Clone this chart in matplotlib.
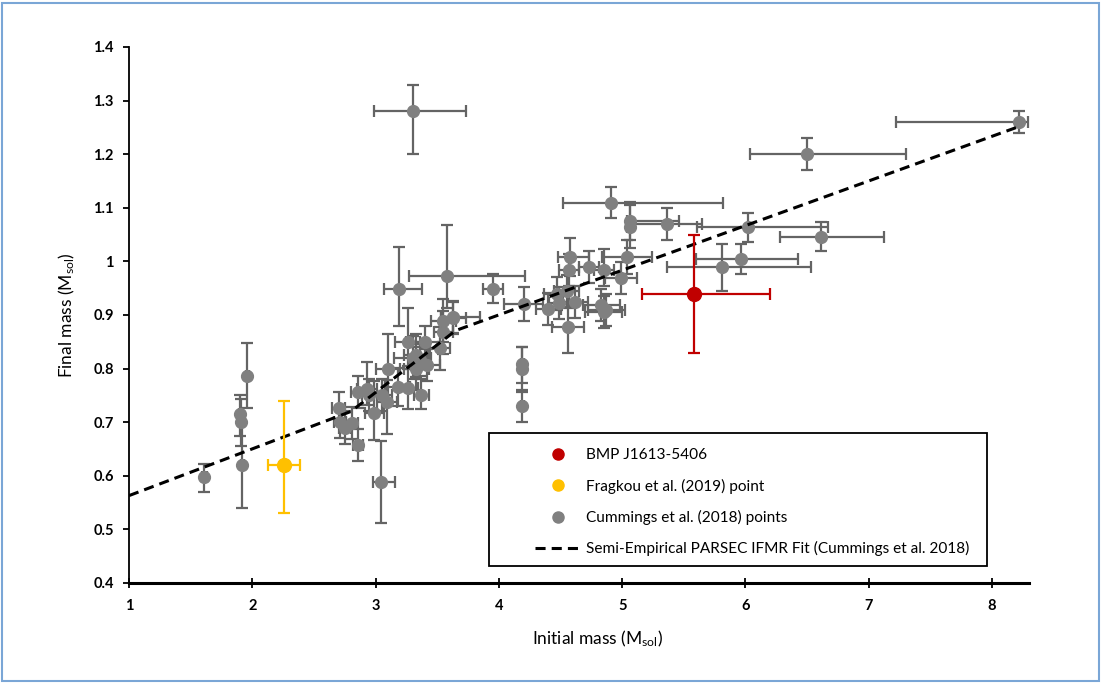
import matplotlib
matplotlib.use("Agg")
import matplotlib.pyplot as plt
from matplotlib.lines import Line2D
from matplotlib.patches import Rectangle

plt.rcParams['font.family'] = ['Lato', 'DejaVu Sans']
plt.rcParams['mathtext.default'] = 'regular'

# Cummings et al. (2018) points: initial mass, final mass and asymmetric errors
cum_x = [1.61, 1.90, 1.91, 1.92, 1.96, 2.70, 2.71, 2.75, 2.81, 2.86,
         2.86, 2.93, 2.95, 2.99, 3.04, 3.05, 3.09, 3.10, 3.18, 3.19,
         3.26, 3.26, 3.30, 3.33, 3.33, 3.36, 3.37, 3.30, 3.40, 3.42,
         3.52, 3.55, 3.55, 3.58, 3.63, 3.63, 3.95, 4.19, 4.19, 4.19,
         4.20, 4.40, 4.47, 4.49, 4.55, 4.56, 4.57, 4.58, 4.62, 4.73,
         4.83, 4.85, 4.87, 4.85, 4.91, 4.99, 5.04, 5.06, 5.06, 5.36,
         5.81, 5.96, 6.02, 6.50, 6.61, 8.22]
cum_y = [0.597, 0.715, 0.700, 0.620, 0.787, 0.727, 0.700, 0.690, 0.699, 0.657,
         0.757, 0.762, 0.751, 0.717, 0.589, 0.750, 0.738, 0.800, 0.766, 0.949,
         0.764, 0.850, 0.820, 0.825, 0.800, 0.816, 0.751, 1.280, 0.850, 0.807,
         0.838, 0.868, 0.889, 0.973, 0.896, 0.894, 0.949, 0.808, 0.800, 0.731,
         0.920, 0.911, 0.940, 0.922, 0.945, 0.878, 0.984, 1.008, 0.924, 0.990,
         0.918, 0.905, 0.910, 0.984, 1.109, 0.969, 1.008, 1.075, 1.065, 1.070,
         0.990, 1.005, 1.064, 1.200, 1.046, 1.260]
cum_xlo = [0.02, 0.01, 0.01, 0.01, 0.01, 0.05, 0.05, 0.05, 0.05, 0.04,
           0.06, 0.08, 0.06, 0.08, 0.06, 0.08, 0.08, 0.10, 0.10, 0.12,
           0.08, 0.10, 0.15, 0.10, 0.10, 0.08, 0.06, 0.31, 0.15, 0.10,
           0.08, 0.08, 0.10, 0.31, 0.10, 0.10, 0.08, 0.01, 0.01, 0.01,
           0.16, 0.10, 0.10, 0.08, 0.10, 0.13, 0.08, 0.10, 0.10, 0.08,
           0.15, 0.15, 0.15, 0.08, 0.39, 0.13, 0.20, 0.02, 0.02, 0.26,
           0.45, 0.36, 0.41, 0.46, 0.33, 1.00]
cum_xhi = [0.02, 0.01, 0.01, 0.01, 0.01, 0.05, 0.05, 0.05, 0.05, 0.04,
           0.06, 0.08, 0.06, 0.08, 0.12, 0.08, 0.08, 0.10, 0.10, 0.19,
           0.08, 0.10, 0.15, 0.10, 0.10, 0.08, 0.06, 0.43, 0.15, 0.10,
           0.08, 0.08, 0.10, 0.63, 0.22, 0.10, 0.08, 0.01, 0.01, 0.01,
           0.16, 0.10, 0.10, 0.08, 0.10, 0.13, 0.08, 0.15, 0.10, 0.08,
           0.15, 0.15, 0.15, 0.08, 0.91, 0.13, 0.20, 0.40, 0.02, 0.29,
           0.72, 0.47, 0.65, 0.80, 0.51, 0.07]
cum_ylo = [0.027, 0.040, 0.045, 0.080, 0.060, 0.030, 0.030, 0.030, 0.030, 0.030,
           0.030, 0.030, 0.030, 0.050, 0.077, 0.030, 0.060, 0.065, 0.035, 0.070,
           0.040, 0.050, 0.040, 0.040, 0.040, 0.030, 0.026, 0.080, 0.030, 0.030,
           0.040, 0.040, 0.040, 0.060, 0.030, 0.030, 0.027, 0.035, 0.040, 0.030,
           0.032, 0.030, 0.030, 0.030, 0.030, 0.048, 0.030, 0.035, 0.030, 0.030,
           0.030, 0.030, 0.030, 0.030, 0.028, 0.030, 0.032, 0.035, 0.040, 0.030,
           0.045, 0.028, 0.028, 0.030, 0.027, 0.020]
cum_yhi = [0.025, 0.035, 0.043, 0.080, 0.060, 0.030, 0.030, 0.030, 0.030, 0.030,
           0.030, 0.050, 0.030, 0.060, 0.075, 0.030, 0.040, 0.065, 0.035, 0.078,
           0.040, 0.063, 0.040, 0.040, 0.040, 0.030, 0.030, 0.050, 0.030, 0.030,
           0.040, 0.040, 0.040, 0.094, 0.030, 0.030, 0.027, 0.032, 0.040, 0.025,
           0.032, 0.030, 0.030, 0.030, 0.030, 0.035, 0.030, 0.036, 0.030, 0.030,
           0.030, 0.030, 0.030, 0.040, 0.030, 0.030, 0.032, 0.035, 0.040, 0.030,
           0.042, 0.028, 0.026, 0.030, 0.027, 0.020]

# Fragkou et al. (2019) point
fr_x, fr_y = [2.26], [0.62]
fr_xerr = [[0.13], [0.13]]
fr_yerr = [[0.09], [0.12]]

# BMP J1613-5406
bmp_x, bmp_y = [5.58], [0.94]
bmp_xerr = [[0.42], [0.62]]
bmp_yerr = [[0.11], [0.11]]

# Semi-empirical PARSEC IFMR (Cummings et al. 2018), break points
fit_x = [1.0, 2.8, 3.65, 8.2]
fit_y = [0.563, 0.720, 0.871, 1.250]

gray, bar_gray = '#808080', '#646464'
red, yellow = '#c00000', '#ffc000'

fig = plt.figure(figsize=(11.01, 6.84), dpi=100)
ax = fig.add_axes([0.1172, 0.1477, 0.8174, 0.7836])

ax.errorbar(cum_x, cum_y, xerr=[cum_xlo, cum_xhi], yerr=[cum_ylo, cum_yhi],
            fmt='o', ms=8.5, mfc=gray, mec=gray, ecolor=bar_gray,
            elinewidth=1.6, capsize=4, capthick=1.6, zorder=3)
ax.plot(fit_x, fit_y, color='black', lw=2.2, dashes=(3.3, 2.0), zorder=4)
ax.errorbar(fr_x, fr_y, xerr=fr_xerr, yerr=fr_yerr, fmt='o', ms=10,
            mfc=yellow, mec=yellow, ecolor=yellow, elinewidth=1.6,
            capsize=4, capthick=1.6, zorder=5)
ax.errorbar(bmp_x, bmp_y, xerr=bmp_xerr, yerr=bmp_yerr, fmt='o', ms=10,
            mfc=red, mec=red, ecolor=red, elinewidth=1.6,
            capsize=4, capthick=1.6, zorder=5)

ax.set_xlim(1, 8.3)
ax.set_ylim(0.4, 1.4)
ax.set_xticks(range(1, 9))
ax.set_yticks([0.4, 0.5, 0.6, 0.7, 0.8, 0.9, 1.0, 1.1, 1.2, 1.3, 1.4])
ax.set_yticklabels(['0.4', '0.5', '0.6', '0.7', '0.8', '0.9', '1',
                    '1.1', '1.2', '1.3', '1.4'])
for s in ['top', 'right']:
    ax.spines[s].set_visible(False)
ax.spines['left'].set_linewidth(1.3)
ax.spines['bottom'].set_linewidth(2.2)
ax.tick_params(axis='x', direction='inout', length=7, width=1.3, pad=8,
               labelsize=10.5)
ax.tick_params(axis='y', direction='out', length=4, width=1.3, pad=7,
               labelsize=10.5)
for lab in ax.get_xticklabels() + ax.get_yticklabels():
    lab.set_fontweight('bold')

ax.set_xlabel('Initial mass (M$_{sol}$)', fontsize=12.5, labelpad=10)
ax.xaxis.set_label_coords(0.52, -0.085)
ax.set_ylabel('Final mass (M$_{sol}$)', fontsize=12.5, labelpad=12)

# legend box
ax.add_patch(Rectangle((0.4, 0.032), 0.553, 0.248, transform=ax.transAxes,
                       fill=True, facecolor='white', edgecolor='black',
                       lw=1.3, zorder=6))
handles = [
    Line2D([], [], ls='none', marker='o', ms=8, mfc=red, mec=red),
    Line2D([], [], ls='none', marker='o', ms=8, mfc=yellow, mec=yellow),
    Line2D([], [], ls='none', marker='o', ms=8, mfc=gray, mec=gray),
    Line2D([], [], color='black', lw=2.2, dashes=(3.3, 2.0)),
]
labels = ['BMP J1613-5406', 'Fragkou et al. (2019) point',
          'Cummings et al. (2018) points',
          'Semi-Empirical PARSEC IFMR Fit (Cummings et al. 2018)']
leg = ax.legend(handles, labels, loc='upper left',
                bbox_to_anchor=(0.437, 0.274), frameon=False,
                fontsize=11.1, handlelength=3.0, handletextpad=0.35,
                labelspacing=1.05, borderpad=0.3)
leg.set_zorder(7)

# figure border
fig.add_artist(Rectangle((0.002, 0.004), 0.996, 0.992,
                         transform=fig.transFigure, fill=False,
                         edgecolor='#7aa6d6', lw=1.5))

fig.savefig('out.png', dpi=100)
